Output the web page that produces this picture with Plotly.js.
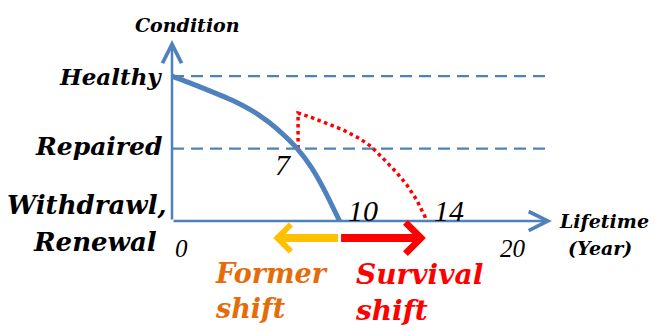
<!DOCTYPE html>
<html>
<head>
<meta charset="utf-8">
<script src="https://cdn.plot.ly/plotly-3.0.1.min.js"></script>
<style>
  html, body { margin: 0; padding: 0; background: #fff; }
  #chart { width: 656px; height: 331px; }
</style>
</head>
<body>
<div id="chart"></div>
<script>
// condition levels on the vertical axis
const conditionLevels = [0, 1, 2];
const conditionNames = ['Withdrawl,', 'Repaired', 'Healthy'];
const bottomLevelExtra = 'Renewal';

// lifetime axis (schematic years)
const lifetimeTicks = [0, 20];
const lifetimeEnd = 22.9;
const conditionTop = 2.5;
const levelLineEnd = 22.5;

// blue curve: deterioration without repair
const baseYears = [0, 1.6, 3.6, 5.2, 6.4, 7.55, 8.4, 9.2, 10.1];
const baseCondition = [2, 1.86, 1.67, 1.47, 1.26, 1.0, 0.74, 0.42, 0];

// red dotted curve: repaired at year 7, survives to 14
const repairYears = [7.6, 7.6, 8.3, 9.3, 10.3, 11.3, 12.0, 12.7, 13.5, 14.15, 14.75, 15.25, 15.3];
const repairCondition = [1.0, 1.49, 1.44, 1.35, 1.26, 1.14, 1.03, 0.87, 0.68, 0.5, 0.29, 0.06, 0];

// year labels at the key points
const keyLabels = ['7', '10', '14'];

// shift arrows under the axis
const shiftLevel = -0.235;
const formerShiftEnd = 6.1;

const BLUE = '#4F81BD';
const FONT = 'DejaVu Serif';

const pxPerX = 16.59, pxPerY = 72.4, originX = 172, originY = 221;
const W = 656, H = 331;

const data = [
  {
    x: [0, levelLineEnd], y: [conditionLevels[2], conditionLevels[2]],
    mode: 'lines', line: { color: BLUE, width: 2.2, dash: '12px,7px' }, hoverinfo: 'skip'
  },
  {
    x: [0, levelLineEnd], y: [conditionLevels[1], conditionLevels[1]],
    mode: 'lines', line: { color: BLUE, width: 2.2, dash: '12px,7px' }, hoverinfo: 'skip'
  },
  {
    x: repairYears, y: repairCondition,
    mode: 'lines', line: { color: '#FF0000', width: 3.5, dash: 'dot' }
  },
  {
    x: baseYears, y: baseCondition,
    mode: 'lines', line: { color: BLUE, width: 5, shape: 'spline', smoothing: 0.6 }
  }
];

function txt(text, x, y, opts) {
  return Object.assign({
    text: text, x: x, y: y, xref: 'x', yref: 'y', showarrow: false,
    font: { family: FONT, size: 24, color: '#000', style: 'italic' }
  }, opts);
}

function labelFont(size, color) {
  return { family: FONT, size: size, color: color || '#000', style: 'italic', weight: 'bold' };
}

function numFont(size) {
  return { family: 'Liberation Serif', size: size, color: '#000', style: 'italic' };
}

const annotations = [];

// axes with open arrow heads
annotations.push({
  x: 0, y: conditionTop, ax: 0, ay: 0, xref: 'x', yref: 'y', axref: 'x', ayref: 'y',
  text: '', showarrow: true, arrowhead: 5, arrowsize: 1.5, arrowwidth: 2.5, arrowcolor: BLUE
});
annotations.push({
  x: lifetimeEnd, y: 0, ax: 0, ay: 0, xref: 'x', yref: 'y', axref: 'x', ayref: 'y',
  text: '', showarrow: true, arrowhead: 5, arrowsize: 1.5, arrowwidth: 2.5, arrowcolor: BLUE
});

// shift arrows
const shiftStart = baseYears[baseYears.length - 1];
annotations.push({
  x: formerShiftEnd, y: shiftLevel, ax: shiftStart, ay: shiftLevel,
  xref: 'x', yref: 'y', axref: 'x', ayref: 'y',
  text: '', showarrow: true, arrowhead: 4, arrowsize: 0.65, arrowwidth: 8, arrowcolor: '#FFC000'
});
annotations.push({
  x: repairYears[repairYears.length - 1], y: shiftLevel, ax: shiftStart, ay: shiftLevel,
  xref: 'x', yref: 'y', axref: 'x', ayref: 'y',
  text: '', showarrow: true, arrowhead: 4, arrowsize: 0.75, arrowwidth: 8, arrowcolor: '#FF0000'
});

// condition level names
annotations.push(txt(conditionNames[2], 0, conditionLevels[2], { xanchor: 'right', xshift: -8, font: labelFont(23) }));
annotations.push(txt(conditionNames[1], 0, conditionLevels[1], { xanchor: 'right', xshift: -8, yshift: 2, font: labelFont(25) }));
annotations.push(txt(conditionNames[0], 0, conditionLevels[0], { xanchor: 'right', xshift: -3, yshift: 16, font: labelFont(26) }));
annotations.push(txt(bottomLevelExtra, 0, conditionLevels[0], { xanchor: 'right', xshift: -13, yshift: -21, font: labelFont(26) }));

// axis titles
annotations.push(txt('Condition', 0, conditionTop, { xshift: 15, yshift: 15, font: labelFont(19) }));
annotations.push(txt('Lifetime', lifetimeEnd, 0, { xanchor: 'left', xshift: 5, yshift: 0, font: labelFont(19) }));
annotations.push(txt('(Year)', lifetimeEnd, 0, { xanchor: 'left', xshift: 14, yshift: -27, font: labelFont(19) }));

// lifetime tick labels
lifetimeTicks.forEach(function (t) {
  annotations.push(txt(String(t), t, 0, { xshift: 9, yshift: -27, font: numFont(25) }));
});

// key year labels
annotations.push(txt(keyLabels[0], repairYears[0], repairCondition[0], { xshift: -15, yshift: -16, font: numFont(30) }));
annotations.push(txt(keyLabels[1], baseYears[baseYears.length - 1], 0, { xshift: 23, yshift: 11, font: numFont(30) }));
annotations.push(txt(keyLabels[2], repairYears[repairYears.length - 1], 0, { xshift: 23, yshift: 11, font: numFont(30) }));

// shift captions
annotations.push(txt('Former<br>shift', formerShiftEnd, shiftLevel, { xanchor: 'left', align: 'left', yanchor: 'top', xshift: -60, yshift: -18, font: labelFont(27, '#E46C0A') }));
annotations.push(txt('Survival<br>shift', shiftStart, shiftLevel, { xanchor: 'left', align: 'left', yanchor: 'top', xshift: 13, yshift: -18, font: labelFont(28, '#FF0000') }));

const layout = {
  width: W, height: H,
  margin: { l: 0, r: 0, t: 0, b: 0 },
  paper_bgcolor: '#fff', plot_bgcolor: '#fff',
  showlegend: false,
  xaxis: { range: [-originX / pxPerX, (W - originX) / pxPerX], visible: false },
  yaxis: { range: [-(H - originY) / pxPerY, originY / pxPerY], visible: false },
  annotations: annotations
};

Plotly.newPlot('chart', data, layout, { staticPlot: true });
</script>
</body>
</html>
